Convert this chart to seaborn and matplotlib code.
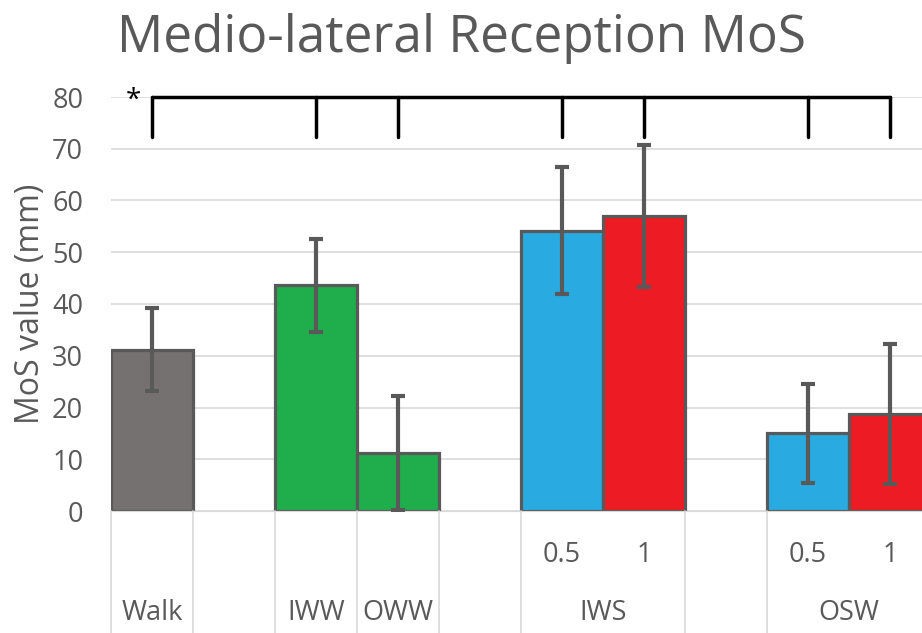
import numpy as np
import pandas as pd
import matplotlib
matplotlib.use("Agg")
import matplotlib.pyplot as plt
import matplotlib.transforms as mtransforms
import seaborn as sns

# =========================
# DATA
# =========================
slots = ["Walk", "gap1", "IWW", "OWW", "gap2", "IWS 0.5", "IWS 1", "gap3", "OSW 0.5", "OSW 1"]
bar_names = ["Walk", "IWW", "OWW", "IWS 0.5", "IWS 1", "OSW 0.5", "OSW 1"]
means = [31.2, 43.6, 11.2, 54.2, 57.0, 15.0, 18.8]
errors = [8.0, 9.0, 11.0, 12.3, 13.8, 9.5, 13.5]
colors = ["#767171", "#1FAE4B", "#1FAE4B", "#29ABE2", "#ED1C24", "#29ABE2", "#ED1C24"]

inner_labels = ["", "", "", "", "", "0.5", "1", "", "0.5", "1"]
outer_labels = ["Walk", "IWW", "OWW", "IWS", "OSW"]
outer_pos = [0, 2, 3, 5.5, 8.5]
separators = [-0.5, 0.5, 1.5, 2.5, 3.5, 4.5, 6.5, 7.5]
sig_slots = ["Walk", "IWW", "OWW", "IWS 0.5", "IWS 1", "OSW 0.5", "OSW 1"]

df = pd.DataFrame({"slot": bar_names, "value": means})

# =========================
# STYLE
# =========================
sns.set_style("white")
plt.rcParams["font.family"] = ["Open Sans", "DejaVu Sans"]
txt = "#595959"
fs = 19.5

fig = plt.figure(figsize=(9.22, 6.33), dpi=100)
ax = fig.add_axes([111 / 922, 1 - 511 / 633, 820 / 922, 414 / 633])

sns.barplot(data=df, x="slot", y="value", order=slots, hue="slot",
            palette=dict(zip(bar_names, colors)), saturation=1, width=1.0,
            edgecolor="#595959", linewidth=2.3, legend=False, ax=ax, zorder=2)

pos = [slots.index(n) for n in bar_names]
ax.errorbar(pos, means, yerr=errors, fmt="none", ecolor="#595959",
            elinewidth=3, capsize=5, capthick=3, zorder=3)

ax.set_xlim(-0.5, 9.5)
ax.set_ylim(0, 80)
ax.set_yticks(np.arange(0, 81, 10))
ax.yaxis.grid(True, color="#d9d9d9", linewidth=1.2, zorder=0)
ax.set_axisbelow(True)
for s in ["top", "right", "left"]:
    ax.spines[s].set_visible(False)
ax.spines["bottom"].set_color("#d9d9d9")
ax.tick_params(axis="y", labelsize=fs, labelcolor=txt, length=0, pad=20)
ax.set_xticks([])
ax.set_xlabel("")
ax.set_ylabel("MoS value (mm)", fontsize=23, color=txt, labelpad=4)

# category axis (two levels)
trans = mtransforms.blended_transform_factory(ax.transData, fig.transFigure)
for x in separators:
    ax.plot([x, x], [1 - 511 / 633, 0], color="#d9d9d9", lw=1.2,
            transform=trans, clip_on=False)
for i, lab in enumerate(inner_labels):
    if lab:
        ax.text(i, 1 - 555 / 633, lab, transform=trans, ha="center", va="center",
                fontsize=fs, color=txt)
for x, lab in zip(outer_pos, outer_labels):
    ax.text(x, 1 - 613 / 633, lab, transform=trans, ha="center", va="center",
            fontsize=fs, color=txt)

# significance bracket
sig_x = [slots.index(n) for n in sig_slots]
ax.plot([sig_x[0], sig_x[-1]], [80, 80], color="black", lw=2.5, clip_on=False, zorder=4)
for x in sig_x:
    ax.plot([x, x], [80, 72.3], color="black", lw=2.5, clip_on=False, zorder=4)
ax.text(-0.23, 77.9, "*", ha="center", va="baseline", fontsize=20, color="black")

fig.text(0.5, 1 - 38 / 633, "Medio-lateral Reception MoS", ha="center", va="center",
         fontsize=37, color=txt)

fig.savefig("out.png", dpi=100)
